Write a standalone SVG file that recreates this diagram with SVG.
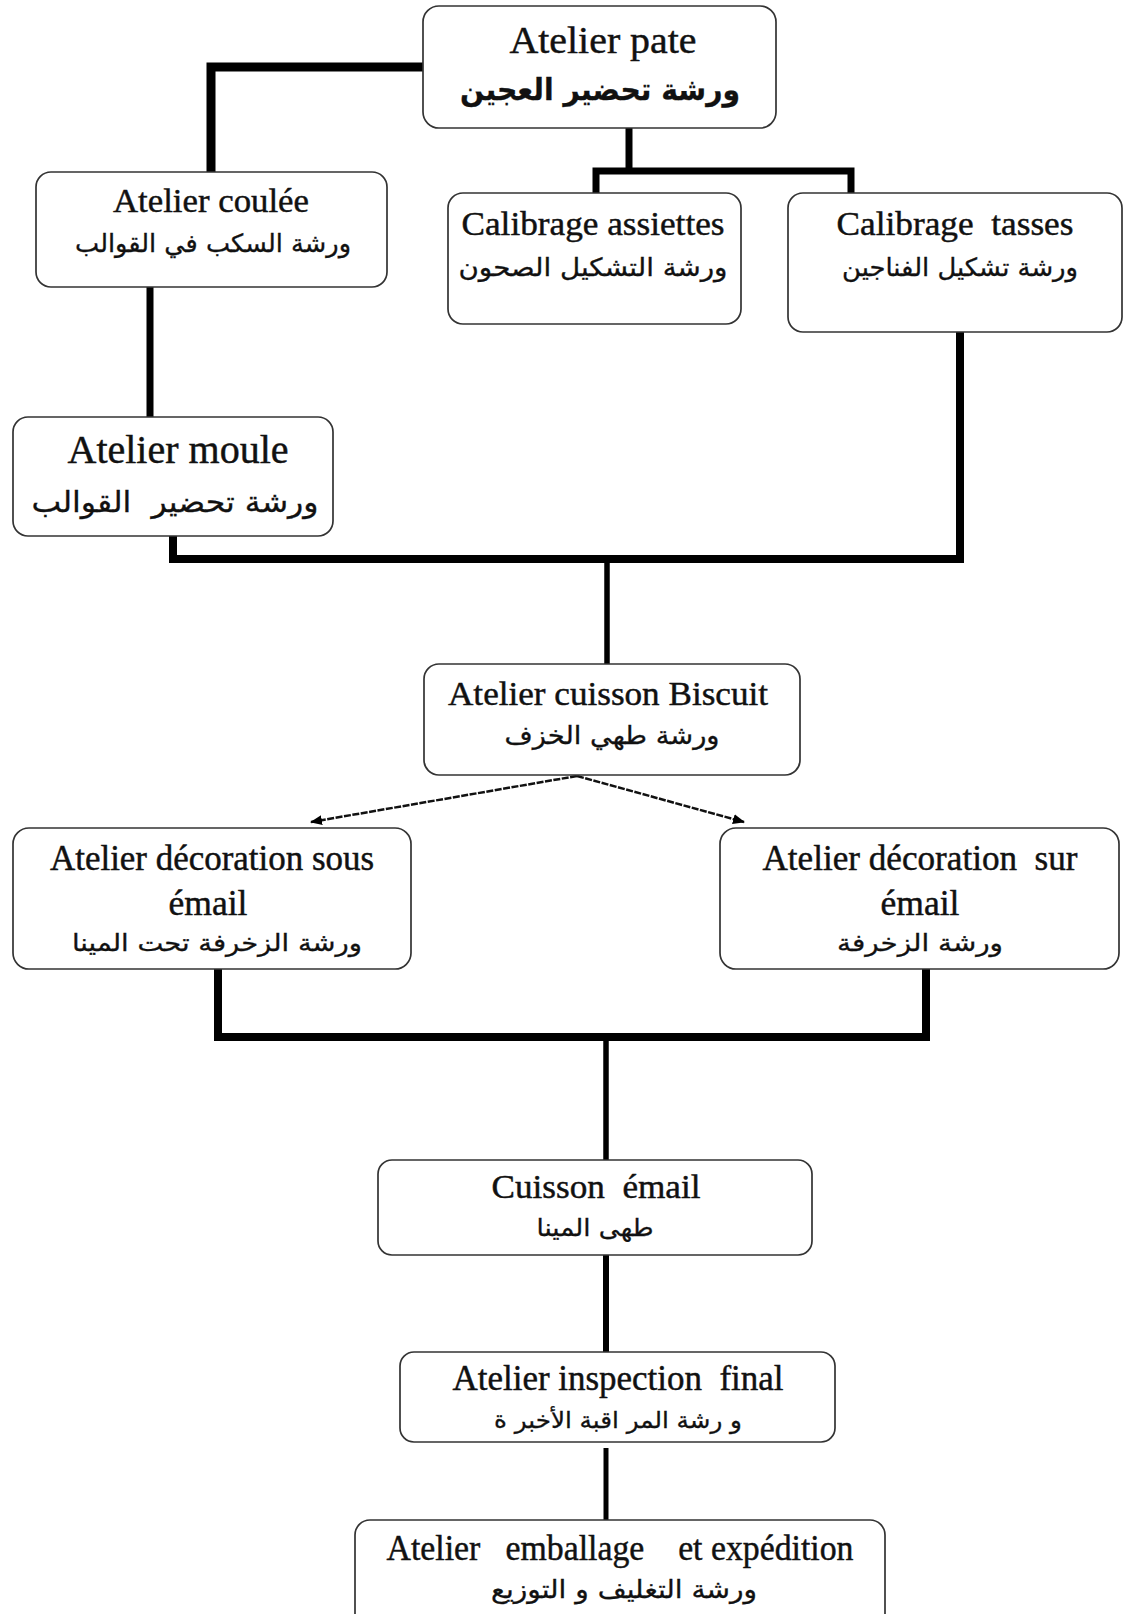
<svg xmlns="http://www.w3.org/2000/svg" width="1123" height="1614" viewBox="0 0 1123 1614">
<style>
.box{fill:#fff;stroke:#333;stroke-width:1.7}
.lat{font-family:"Liberation Serif","Times New Roman",serif;fill:#111;stroke:#111;stroke-width:0.45;text-anchor:middle}
.ar{font-family:"DejaVu Sans","Noto Sans",sans-serif;fill:#111;stroke:#111;stroke-width:0.3;text-anchor:middle;direction:rtl;unicode-bidi:embed}
.c{fill:none;stroke:#000;stroke-linejoin:miter;stroke-linecap:butt}
.arr{fill:none;stroke:#111;stroke-width:2.5;stroke-dasharray:7 1.5}
</style>
<defs>
<marker id="ah" viewBox="0 0 12 10" refX="11" refY="5" markerWidth="12" markerHeight="10" markerUnits="userSpaceOnUse" orient="auto">
<path d="M0,0 L12,5 L0,10 z" fill="#000"/>
</marker>
</defs>
<rect width="1123" height="1614" fill="#fff"/>

<g id="connectors">
<path class="c" d="M423 67 H211 V172" stroke-width="9"/>
<path class="c" d="M629 128 V171" stroke-width="7"/>
<path class="c" d="M596 193 V171 H851 V193" stroke-width="7"/>
<path class="c" d="M150 287 V417" stroke-width="7"/>
<path class="c" d="M173 536 V559 H960 V332" stroke-width="8"/>
<path class="c" d="M607 559 V664" stroke-width="5.5"/>
<path class="arr" d="M577 776 L311 822" marker-end="url(#ah)"/>
<path class="arr" d="M577 776 L744 822" marker-end="url(#ah)"/>
<path class="c" d="M218 969 V1037 H926 V969" stroke-width="8"/>
<path class="c" d="M606 1037 V1160" stroke-width="5.5"/>
<path class="c" d="M606 1255 V1352" stroke-width="6"/>
<path class="c" d="M606 1448 V1520" stroke-width="5"/>
</g>

<g id="n-pate">
<rect class="box" x="423" y="6" width="353" height="122" rx="16"/>
<text class="lat" x="603" y="53" font-size="38" textLength="187" lengthAdjust="spacingAndGlyphs">Atelier pate</text>
<text class="ar" x="600" y="100" font-size="30" font-weight="bold" textLength="280" lengthAdjust="spacingAndGlyphs">ورشة تحضير العجين</text>
</g>

<g id="n-coulee">
<rect class="box" x="36" y="172" width="351" height="115" rx="15"/>
<text class="lat" x="211" y="212" font-size="34" textLength="196" lengthAdjust="spacingAndGlyphs">Atelier coulée</text>
<text class="ar" x="213" y="252" font-size="25" textLength="276" lengthAdjust="spacingAndGlyphs">ورشة السكب في القوالب</text>
</g>

<g id="n-assiettes">
<rect class="box" x="448" y="193" width="293" height="131" rx="15"/>
<text class="lat" x="593" y="235" font-size="34" textLength="263" lengthAdjust="spacingAndGlyphs">Calibrage assiettes</text>
<text class="ar" x="593" y="276" font-size="25" textLength="269" lengthAdjust="spacingAndGlyphs">ورشة التشكيل الصحون</text>
</g>

<g id="n-tasses">
<rect class="box" x="788" y="193" width="334" height="139" rx="15"/>
<text class="lat" x="955" y="235" font-size="34" textLength="237" lengthAdjust="spacingAndGlyphs" xml:space="preserve">Calibrage  tasses</text>
<text class="ar" x="960" y="276" font-size="25" textLength="236" lengthAdjust="spacingAndGlyphs">ورشة تشكيل الفناجين</text>
</g>

<g id="n-moule">
<rect class="box" x="13" y="417" width="320" height="119" rx="15"/>
<text class="lat" x="178" y="463" font-size="40" textLength="221" lengthAdjust="spacingAndGlyphs">Atelier moule</text>
<text class="ar" x="175" y="512" font-size="29" textLength="287" lengthAdjust="spacingAndGlyphs" xml:space="preserve">ورشة تحضير  القوالب</text>
</g>

<g id="n-biscuit">
<rect class="box" x="424" y="664" width="376" height="111" rx="15"/>
<text class="lat" x="608" y="705" font-size="34" textLength="320" lengthAdjust="spacingAndGlyphs">Atelier cuisson Biscuit</text>
<text class="ar" x="612" y="744" font-size="25" textLength="215" lengthAdjust="spacingAndGlyphs">ورشة طهي الخزف</text>
</g>

<g id="n-deco-sous">
<rect class="box" x="13" y="828" width="398" height="141" rx="16"/>
<text class="lat" x="212" y="870" font-size="35" textLength="324" lengthAdjust="spacingAndGlyphs">Atelier décoration sous</text>
<text class="lat" x="208" y="915" font-size="35" textLength="79" lengthAdjust="spacingAndGlyphs">émail</text>
<text class="ar" x="217" y="951" font-size="24" textLength="290" lengthAdjust="spacingAndGlyphs">ورشة الزخرفة تحت المينا</text>
</g>

<g id="n-deco-sur">
<rect class="box" x="720" y="828" width="399" height="141" rx="16"/>
<text class="lat" x="920" y="870" font-size="35" textLength="315" lengthAdjust="spacingAndGlyphs" xml:space="preserve">Atelier décoration  sur</text>
<text class="lat" x="920" y="915" font-size="35" textLength="79" lengthAdjust="spacingAndGlyphs">émail</text>
<text class="ar" x="920" y="951" font-size="24" textLength="166" lengthAdjust="spacingAndGlyphs">ورشة الزخرفة</text>
</g>

<g id="n-cuisson-email">
<rect class="box" x="378" y="1160" width="434" height="95" rx="14"/>
<text class="lat" x="596" y="1198" font-size="34" textLength="209" lengthAdjust="spacingAndGlyphs" xml:space="preserve">Cuisson  émail</text>
<text class="ar" x="595" y="1236" font-size="24" textLength="117" lengthAdjust="spacingAndGlyphs">طهى المينا</text>
</g>

<g id="n-inspection">
<rect class="box" x="400" y="1352" width="435" height="90" rx="14"/>
<text class="lat" x="618" y="1390" font-size="35" textLength="331" lengthAdjust="spacingAndGlyphs" xml:space="preserve">Atelier inspection  final</text>
<text class="ar" x="618" y="1428" font-size="23" textLength="248" lengthAdjust="spacingAndGlyphs">و رشة المر اقبة الأخبر ة</text>
</g>

<g id="n-emballage">
<rect class="box" x="355" y="1520" width="530" height="110" rx="15"/>
<text class="lat" x="620" y="1560" font-size="35" textLength="467" lengthAdjust="spacingAndGlyphs" xml:space="preserve">Atelier   emballage    et expédition</text>
<text class="ar" x="624" y="1598" font-size="25" textLength="266" lengthAdjust="spacingAndGlyphs">ورشة التغليف و التوزيع</text>
</g>
</svg>
